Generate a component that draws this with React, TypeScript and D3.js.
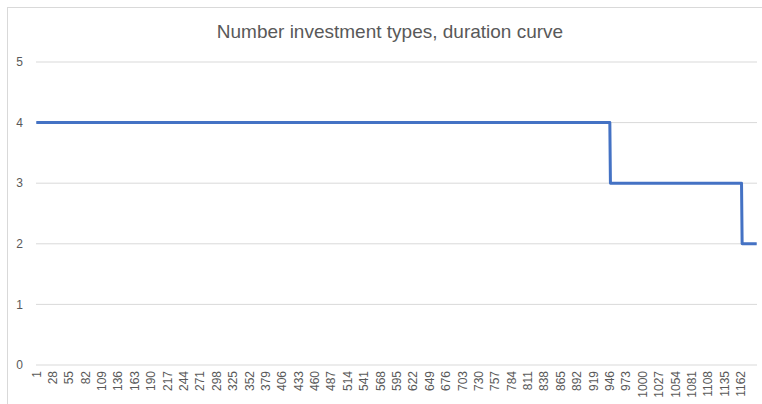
import React from 'react'
import * as d3 from 'd3'

// duration curve: how many periods sit at each level (sorted, descending)
const levels = [4, 3, 2]
const runLengths = [946, 217, 25]
const yTicks = [0, 1, 2, 3, 4, 5]
const labelStep = 27
const title = 'Number investment types, duration curve'

const values: number[] = []
levels.forEach((lv, i) => {
  for (let k = 0; k < runLengths[i]; k++) values.push(lv)
})
const categories = values.map((_, i) => i + 1)
const xLabels = categories.filter(c => (c - 1) % labelStep === 0)

const width = 762
const height = 404
const margin = { top: 62, right: 5, bottom: 39, left: 36 }
const font = '"Liberation Sans Narrow", "Liberation Sans", Arial, sans-serif'

const App = () => {
  const x = d3.scaleBand<number>()
    .domain(categories)
    .range([margin.left, width - margin.right])

  const y = d3.scaleLinear()
    .domain([0, 5])
    .range([height - margin.bottom, margin.top])

  const cx = (c: number) => (x(c) as number) + x.bandwidth() / 2

  const line = d3.line<number>()
    .x((_, i) => cx(categories[i]))
    .y(d => y(d))

  return (
    <svg width={width} height={height} style={{ position: 'absolute', left: 0, top: 0, background: '#fff' }}>
      <rect x={7.5} y={7.5} width={width + 20} height={height + 20} fill='#fff' stroke='#d9d9d9' />
      <text x={390} y={38} textAnchor='middle' fontFamily={font} fontSize={19} fill='#595959'>{title}</text>
      {yTicks.map(t => (
        <g key={t}>
          <line x1={margin.left} x2={width - margin.right} y1={y(t)} y2={y(t)} stroke='#d9d9d9' strokeWidth={1} />
          <text x={23} y={y(t)} dy='0.35em' textAnchor='end' fontFamily={font} fontSize={12} fill='#595959'>{t}</text>
        </g>
      ))}
      {xLabels.map(c => (
        <text
          key={c}
          transform={`translate(${cx(c)},${height - margin.bottom + 6}) rotate(-90)`}
          textAnchor='end'
          dy='0.35em'
          fontFamily={font}
          fontSize={12}
          fill='#595959'
        >{c}</text>
      ))}
      <path d={line(values) || ''} fill='none' stroke='#4472c4' strokeWidth={3} strokeLinejoin='round' />
    </svg>
  )
}

export default App
